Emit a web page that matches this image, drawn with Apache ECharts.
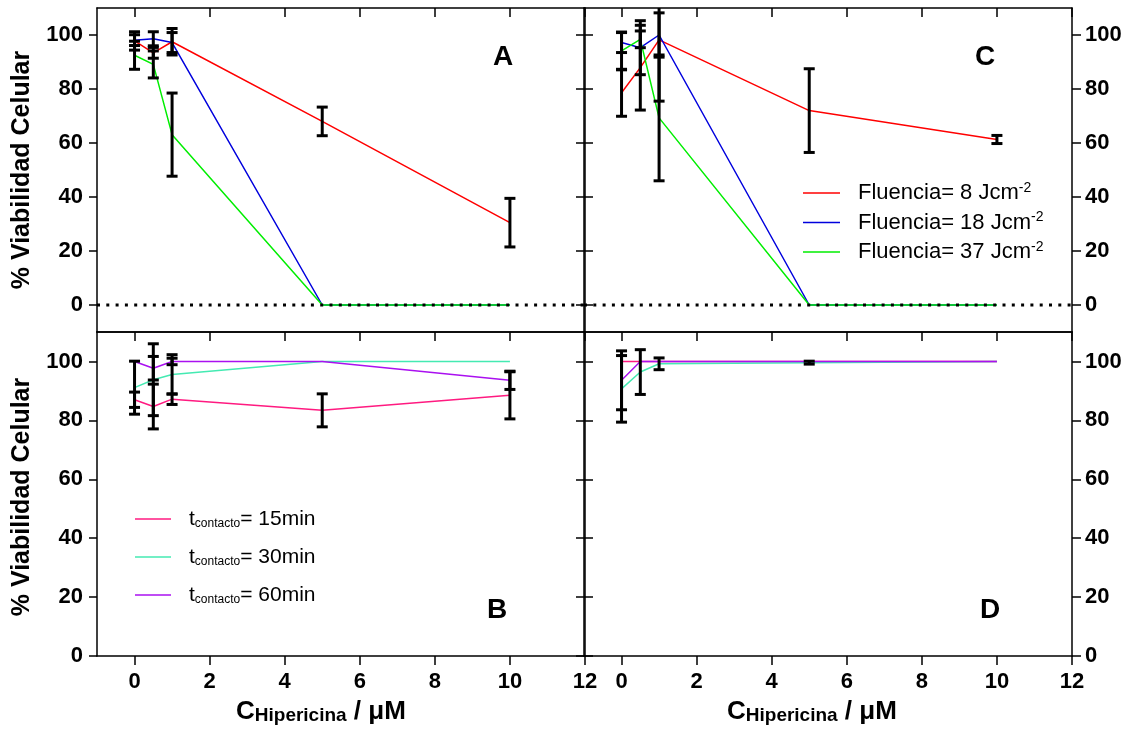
<!DOCTYPE html>
<html>
<head>
<meta charset="utf-8">
<script src="https://cdn.jsdelivr.net/npm/echarts@6/dist/echarts.min.js"></script>
<style>
html,body{margin:0;padding:0;background:#fff;}
#chart{width:1135px;height:731px;}
</style>
</head>
<body>
<div id="chart"></div>
<script>
// ---------- data ----------
const xValues = [0, 0.5, 1, 5, 10];
const xTickValues = [0, 2, 4, 6, 8, 10, 12];
const yTickValues = [0, 20, 40, 60, 80, 100];

// Panel A
const aF8 = [97.8, 93.4, 97.5, 68.0, 30.5];
const aF8Err = [3.4, 2.0, 4.9, 5.3, 9.0];
const aF18 = [98.1, 98.6, 97.2, 0, 0];
const aF18Err = [2.0, 2.6, 3.7, null, null];
const aF37 = [92.5, 89.1, 63.1, 0, 0];
const aF37Err = [5.2, 5.0, 15.4, null, null];

// Panel C
const cF8 = [78.6, 87.9, 98.2, 72.0, 61.3];
const cF8Err = [8.7, 15.7, 22.7, 15.5, 1.5];
const cF18 = [97.2, 95.3, 100, 0, 0];
const cF18Err = [3.7, 10.0, 8.2, null, null];
const cF37 = [94.1, 98.4, 69.3, 0, 0];
const cF37Err = [7.0, 3.1, 23.3, null, null];

// Panel B
const bT15 = [87.0, 84.7, 87.2, 83.4, 88.5];
const bT15Err = [2.6, 7.6, 1.8, 5.6, 8.0];
const bT30 = [91.1, 93.8, 95.6, 100, 100];
const bT30Err = [9.0, 12.2, 6.7, null, null];
const bT60 = [100, 97.7, 100, 100, 93.6];
const bT60Err = [null, 4.0, 1.1, null, 3.1];

// Panel D
const dT15 = [100, 100, 100, 100, 100];
const dT15Err = [null, null, null, null, null];
const dT30 = [90.7, 96.4, 99.2, 99.6, 100];
const dT30Err = [11.3, 7.6, 2.0, 0.5, null];
const dT60 = [93.6, 100, 100, 100, 100];
const dT60Err = [10.0, null, null, null, null];

const fluenceNames = ['Fluencia= 8 Jcm-2', 'Fluencia= 18 Jcm-2', 'Fluencia= 37 Jcm-2'];
const contactNames = ['tcontacto= 15min', 'tcontacto= 30min', 'tcontacto= 60min'];

// ---------- styling ----------
const colRed = '#ff0000', colBlue = '#0000dd', colGreen = '#00ee00';
const colPink = '#ff1a80', colTeal = '#44eab2', colPurple = '#aa10f0';
const boldFont = "'Liberation Sans', Arial, sans-serif";
const sansFont = "'Liberation Sans', Arial, sans-serif";

const grids = [
  {left: 97, top: 8, width: 488, height: 324},   // A
  {left: 584, top: 8, width: 488, height: 324},  // C
  {left: 97, top: 332, width: 488, height: 324}, // B
  {left: 584, top: 332, width: 488, height: 324} // D
];
const yRanges = [[-10, 110], [-10, 110], [0, 110], [0, 110]];

const axisLineStyle = {color: '#000', width: 1.5};
const tickLabelStyle = {color: '#000', fontFamily: boldFont, fontWeight: 'bold', fontSize: 22};

const xAxes = [], yAxes = [];
grids.forEach((g, i) => {
  const isBottom = i >= 2;
  const isRight = i % 2 === 1;
  xAxes.push({
    type: 'value', gridIndex: i, position: 'bottom', min: -1, max: 12,
    axisLine: {show: true, onZero: false, lineStyle: axisLineStyle},
    axisTick: {show: isBottom, inside: false, length: 9, customValues: xTickValues, lineStyle: axisLineStyle},
    axisLabel: {show: isBottom, customValues: xTickValues, margin: 15, ...tickLabelStyle},
    splitLine: {show: false}
  });
  xAxes.push({
    type: 'value', gridIndex: i, position: 'top', min: -1, max: 12,
    axisLine: {show: true, onZero: false, lineStyle: axisLineStyle},
    axisTick: {show: true, inside: true, length: 9, customValues: xTickValues, lineStyle: axisLineStyle},
    axisLabel: {show: false},
    splitLine: {show: false}
  });
  yAxes.push({
    type: 'value', gridIndex: i, position: 'left', min: yRanges[i][0], max: yRanges[i][1],
    axisLine: {show: true, onZero: false, lineStyle: axisLineStyle},
    axisTick: {show: true, inside: isRight, length: isRight ? 9 : 8, customValues: yTickValues, lineStyle: axisLineStyle},
    axisLabel: {show: !isRight, customValues: yTickValues, margin: 14, ...tickLabelStyle},
    splitLine: {show: false}
  });
  yAxes.push({
    type: 'value', gridIndex: i, position: 'right', min: yRanges[i][0], max: yRanges[i][1],
    axisLine: {show: true, onZero: false, lineStyle: axisLineStyle},
    axisTick: {show: true, inside: !isRight, length: 9, customValues: yTickValues, lineStyle: axisLineStyle},
    axisLabel: {show: isRight, customValues: yTickValues, margin: 13, ...tickLabelStyle},
    splitLine: {show: false}
  });
});

function zip(vals) { return xValues.map((x, k) => [x, vals[k]]); }
function errData(vals, errs) {
  const out = [];
  xValues.forEach((x, k) => {
    if (errs[k] != null) out.push([x, vals[k] - errs[k], vals[k] + errs[k]]);
  });
  return out;
}

function renderErr(params, api) {
  const cs = params.coordSys;
  const x = api.value(0);
  const pLo = api.coord([x, api.value(1)]);
  const pHi = api.coord([x, api.value(2)]);
  const top = Math.max(pHi[1], cs.y);
  const bot = Math.min(pLo[1], cs.y + cs.height);
  const st = {stroke: '#000', lineWidth: 3};
  const half = 5.5;
  const children = [{type: 'line', shape: {x1: pLo[0], y1: bot, x2: pLo[0], y2: top}, style: st}];
  if (pHi[1] >= cs.y) children.push({type: 'line', shape: {x1: pHi[0] - half, y1: pHi[1], x2: pHi[0] + half, y2: pHi[1]}, style: st});
  if (pLo[1] <= cs.y + cs.height) children.push({type: 'line', shape: {x1: pLo[0] - half, y1: pLo[1], x2: pLo[0] + half, y2: pLo[1]}, style: st});
  return {type: 'group', children: children};
}

const series = [];
function addPanel(idx, names, colors, vals, errs, withZero) {
  names.forEach((n, k) => {
    series.push({
      name: n, type: 'line', xAxisIndex: 2 * idx, yAxisIndex: 2 * idx,
      data: zip(vals[k]), symbol: 'none', silent: true,
      lineStyle: {color: colors[k], width: 1.5}, itemStyle: {color: colors[k]}, z: 2
    });
  });
  if (withZero) {
    series.push({
      type: 'line', xAxisIndex: 2 * idx, yAxisIndex: 2 * idx,
      data: [[-1, 0], [12, 0]], symbol: 'none', silent: true,
      lineStyle: {color: '#000', width: 3, type: [3, 6.3]}, z: 3
    });
  }
  names.forEach((n, k) => {
    series.push({
      type: 'custom', xAxisIndex: 2 * idx, yAxisIndex: 2 * idx,
      data: errData(vals[k], errs[k]), renderItem: renderErr,
      encode: {x: 0, y: [1, 2]}, silent: true, z: 4
    });
  });
}
addPanel(0, fluenceNames, [colRed, colBlue, colGreen], [aF8, aF18, aF37], [aF8Err, aF18Err, aF37Err], true);
addPanel(1, fluenceNames, [colRed, colBlue, colGreen], [cF8, cF18, cF37], [cF8Err, cF18Err, cF37Err], true);
addPanel(2, contactNames, [colPink, colTeal, colPurple], [bT15, bT30, bT60], [bT15Err, bT30Err, bT60Err], false);
addPanel(3, contactNames, [colPink, colTeal, colPurple], [dT15, dT30, dT60], [dT15Err, dT30Err, dT60Err], false);

// ---------- annotations ----------
const graphics = [];
function yTitle(cy) {
  graphics.push({
    type: 'text', x: 22, y: cy, rotation: Math.PI / 2,
    style: {text: '% Viabilidad Celular', fill: '#000', font: "bold 25px " + boldFont,
            textAlign: 'center', textVerticalAlign: 'middle'}
  });
}
yTitle(170); yTitle(497);

function xTitle(x0) {
  graphics.push({
    type: 'text', x: x0, y: 712,
    style: {
      text: '{c|C}{s|Hipericina}{c| / μM}', textAlign: 'left', textVerticalAlign: 'middle',
      rich: {
        c: {fontSize: 26, fontWeight: 'bold', fontFamily: boldFont, fill: '#000', lineHeight: 26, verticalAlign: 'bottom'},
        s: {fontSize: 19, fontWeight: 'bold', fontFamily: boldFont, fill: '#000', lineHeight: 11, verticalAlign: 'bottom'}
      }
    }
  });
}
xTitle(236); xTitle(727);

[['A', 503, 57], ['C', 985, 57], ['B', 497, 610], ['D', 990, 610]].forEach(p => {
  graphics.push({type: 'text', x: p[1], y: p[2],
    style: {text: p[0], fill: '#000', font: "bold 28px " + sansFont, textAlign: 'center', textVerticalAlign: 'middle'}});
});

// legend panel C
const fluenceLabels = ['8', '18', '37'];
[colRed, colBlue, colGreen].forEach((c, k) => {
  const y = 193 + k * 29.5;
  graphics.push({type: 'line', shape: {x1: 803, y1: y, x2: 840, y2: y}, style: {stroke: c, lineWidth: 1.5}});
  graphics.push({type: 'text', x: 858, y: y,
    style: {text: '{m|Fluencia= ' + fluenceLabels[k] + ' Jcm}{p|-2}', textAlign: 'left', textVerticalAlign: 'middle',
      rich: {
        m: {fontSize: 22, fontFamily: sansFont, fill: '#000', lineHeight: 24, verticalAlign: 'middle'},
        p: {fontSize: 14, fontFamily: sansFont, fill: '#000', lineHeight: 14, verticalAlign: 'top'}
      }}});
});

// legend panel B
const contactLabels = ['15min', '30min', '60min'];
[colPink, colTeal, colPurple].forEach((c, k) => {
  const y = 519 + k * 38;
  graphics.push({type: 'line', shape: {x1: 135, y1: y, x2: 171, y2: y}, style: {stroke: c, lineWidth: 1.5}});
  graphics.push({type: 'text', x: 189, y: y,
    style: {text: '{t|t}{s|contacto}{t|= ' + contactLabels[k] + '}', textAlign: 'left', textVerticalAlign: 'middle',
      rich: {
        t: {fontSize: 21, fontFamily: sansFont, fill: '#000', lineHeight: 22, verticalAlign: 'bottom'},
        s: {fontSize: 12, fontFamily: sansFont, fill: '#000', lineHeight: 8, verticalAlign: 'bottom'}
      }}});
});

const chart = echarts.init(document.getElementById('chart'), null, {renderer: 'canvas'});
chart.setOption({
  animation: false,
  backgroundColor: '#fff',
  grid: grids,
  xAxis: xAxes,
  yAxis: yAxes,
  series: series,
  graphic: graphics
});
</script>
</body>
</html>
